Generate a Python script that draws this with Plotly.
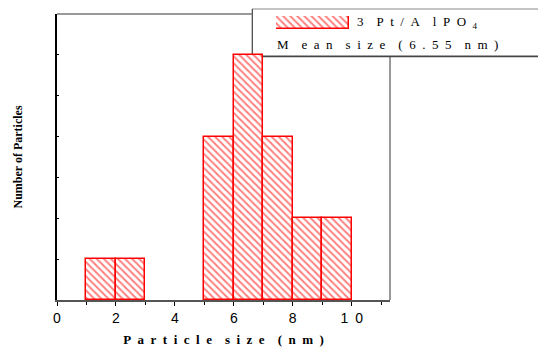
import plotly.graph_objects as go

# data
bin_centers = [1.5, 2.5, 5.5, 6.5, 7.5, 8.5, 9.5]
counts = [1, 1, 4, 6, 4, 2, 2]
bin_width = 1
xtick_vals = [0, 2, 4, 6, 8, 10]
xtick_text = ["0", "2", "4", "6", "8", "1\u20020"]
series_name = "3 Pt/AlPO4"
mean_size = 6.55

W, H = 538, 349
L, R, T, B = 57, 390, 14, 300

def px(x):
    return (x - L) / (R - L)

def py(y):
    return (B - y) / (B - T)

RED = "#ff0000"
pattern = dict(shape="\\", fgcolor=RED, bgcolor="white", size=5, solidity=0.4)

fig = go.Figure()
fig.add_trace(go.Bar(
    x=bin_centers, y=counts, width=bin_width,
    marker=dict(color="white", line=dict(color=RED, width=1.5), pattern=pattern),
    showlegend=False, name=series_name,
))
# legend swatch
fig.add_trace(go.Bar(
    x=[0], y=[1], width=1, xaxis="x2", yaxis="y2",
    marker=dict(color="white", line=dict(color=RED, width=1.5), pattern=pattern),
    showlegend=False, hoverinfo="skip",
))

sp = "\u2002"

fig.update_layout(
    width=W, height=H,
    margin=dict(l=L, r=W - R, t=T, b=H - B, pad=0),
    paper_bgcolor="white", plot_bgcolor="white",
    bargap=0,
    xaxis=dict(
        range=[0, 11.3], showline=True, linecolor="#555", linewidth=1.5,
        showgrid=False, zeroline=False, automargin=False,
        tickmode="array", tickvals=xtick_vals, ticktext=xtick_text,
        ticks="outside", ticklen=4, tickcolor="black", tickwidth=1,
        minor=dict(dtick=1, tick0=0, ticks="outside", ticklen=3, tickcolor="black"),
        tickfont=dict(family="Liberation Sans, Arial", size=14, color="black"),
        title=dict(text="<b>" + (sp + sp).join(["P a r t i c l e".replace(" ", sp), "s i z e".replace(" ", sp), "( n m )".replace(" ", sp)]) + "</b>",
                   font=dict(family="Liberation Serif, Times New Roman", size=13, color="black"),
                   standoff=10),
    ),
    yaxis=dict(
        range=[0, 7], showline=True, linecolor="black", linewidth=1.5,
        showgrid=False, zeroline=False, showticklabels=False, automargin=False,
        tickmode="linear", tick0=0, dtick=1,
        ticks="inside", ticklen=2, tickcolor="black",
        title=dict(text="<b>Number of Particles</b>",
                   font=dict(family="Liberation Serif, Times New Roman", size=12, color="black"),
                   standoff=30),
    ),
    xaxis2=dict(domain=[px(276), px(349)], anchor="y2", range=[-0.5, 0.5],
                visible=False, fixedrange=True),
    yaxis2=dict(domain=[py(29), py(16)], anchor="x2", range=[0, 1],
                visible=False, fixedrange=True),
    shapes=[
        dict(type="line", xref="paper", yref="paper", x0=0, x1=px(252), y0=1, y1=1,
             line=dict(color="#777", width=1.5), layer="below"),
        dict(type="line", xref="paper", yref="paper", x0=1, x1=1, y0=0, y1=py(56),
             line=dict(color="#777", width=1.5), layer="below"),
        dict(type="rect", xref="paper", yref="paper", x0=px(252), x1=px(545), y0=py(56), y1=py(9),
             fillcolor="white", line=dict(color="#888", width=1), layer="below"),
        dict(type="line", xref="paper", yref="paper", x0=px(252), x1=px(545), y0=py(56.5), y1=py(56.5),
             line=dict(color="#444", width=1.5), layer="below"),
        dict(type="line", xref="paper", yref="paper", x0=px(252.5), x1=px(252.5), y0=py(56), y1=py(9),
             line=dict(color="#555", width=1), layer="below"),
    ],
    annotations=[
        dict(xref="paper", yref="paper", x=px(355), y=py(23), xanchor="left", yanchor="middle",
             showarrow=False,
             text="3" + sp + sp + "P" + sp + "t" + sp + "/" + sp + "A" + sp + sp + "l" + sp + "P" + sp + "O" + sp + "<sub>4</sub>",
             font=dict(family="Liberation Serif, Times New Roman", size=13, color="black")),
        dict(xref="paper", yref="paper", x=px(275), y=py(44), xanchor="left", yanchor="middle",
             showarrow=False,
             text="M" + sp + sp + "e" + sp + "a" + sp + "n" + sp + sp + "s" + sp + "i" + sp + "z" + sp + "e" + sp + sp + "(" + sp + "6" + sp + "." + sp + "5" + sp + "5" + sp + sp + "n" + sp + "m" + sp + ")",
             font=dict(family="Liberation Serif, Times New Roman", size=13, color="black")),
    ],
)

fig.write_html("out.html")
